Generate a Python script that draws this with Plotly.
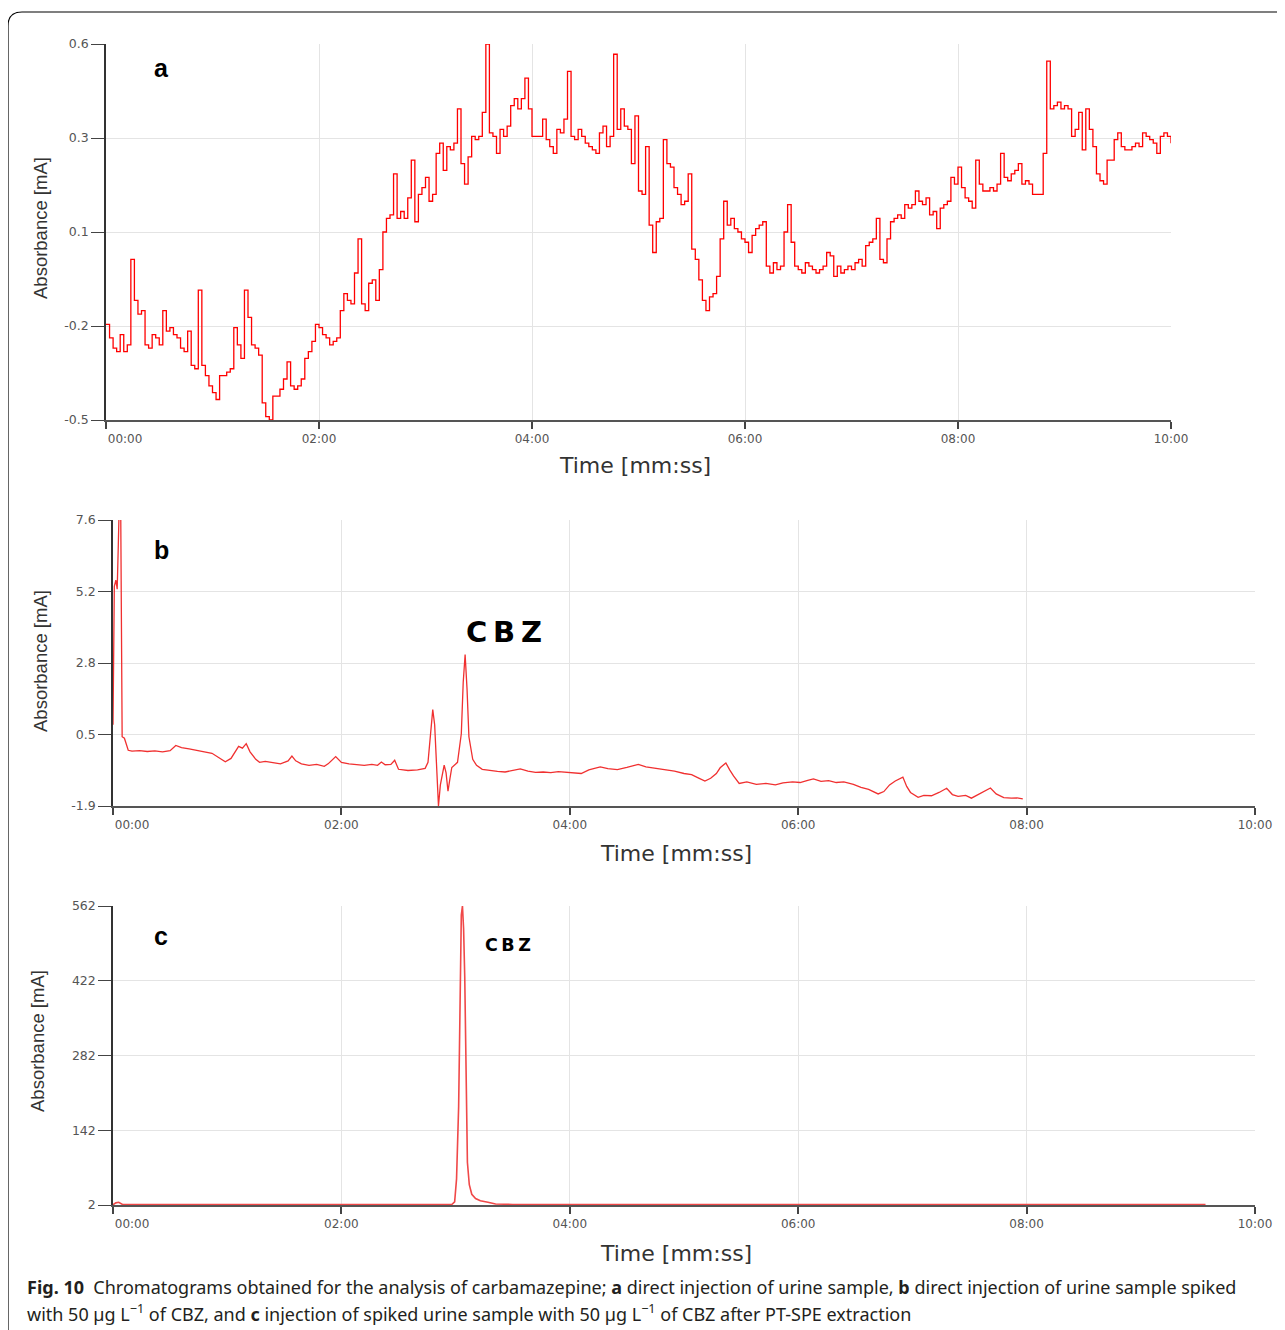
import plotly.graph_objects as go

W, H = 1285, 1330
OFF = 8  # default page margin of the html body

# ---------------- data ----------------
time_tick_vals = [0, 120, 240, 360, 480, 600]
time_tick_text = ["00:00", "02:00", "04:00", "06:00", "08:00", "10:00"]

# panel a : direct injection of urine sample (sampled every 2 s)
a_time = list(range(0, 601, 2))
a_abs = [
    -0.22, -0.26, -0.29, -0.30, -0.25, -0.30, -0.28, -0.03, -0.15, -0.19,
    -0.18, -0.28, -0.29, -0.25, -0.26, -0.28, -0.18, -0.24, -0.23, -0.25,
    -0.26, -0.29, -0.30, -0.24, -0.34, -0.35, -0.12, -0.34, -0.37, -0.40,
    -0.42, -0.44, -0.37, -0.37, -0.36, -0.35, -0.23, -0.28, -0.32, -0.12,
    -0.20, -0.28, -0.29, -0.31, -0.45, -0.49, -0.50, -0.43, -0.43, -0.41,
    -0.38, -0.33, -0.40, -0.41, -0.40, -0.38, -0.32, -0.30, -0.27, -0.22,
    -0.23, -0.25, -0.26, -0.28, -0.27, -0.26, -0.18, -0.13, -0.15, -0.16,
    -0.07, 0.03, -0.16, -0.18, -0.10, -0.09, -0.15, -0.06, 0.05, 0.09,
    0.10, 0.22, 0.09, 0.11, 0.09, 0.15, 0.26, 0.08, 0.16, 0.18,
    0.21, 0.14, 0.16, 0.28, 0.31, 0.23, 0.30, 0.29, 0.31, 0.41,
    0.25, 0.19, 0.27, 0.33, 0.32, 0.33, 0.40, 0.60, 0.34, 0.33,
    0.28, 0.35, 0.33, 0.36, 0.42, 0.44, 0.41, 0.44, 0.50, 0.41,
    0.33, 0.33, 0.33, 0.38, 0.32, 0.30, 0.28, 0.35, 0.34, 0.38,
    0.52, 0.33, 0.32, 0.35, 0.33, 0.31, 0.30, 0.29, 0.28, 0.34,
    0.36, 0.30, 0.33, 0.57, 0.35, 0.41, 0.36, 0.35, 0.25, 0.39,
    0.17, 0.16, 0.30, 0.07, -0.01, 0.08, 0.09, 0.32, 0.25, 0.24,
    0.18, 0.16, 0.13, 0.14, 0.22, 0.00, -0.03, -0.09, -0.15, -0.18,
    -0.14, -0.13, -0.08, 0.03, 0.14, 0.07, 0.09, 0.06, 0.05, 0.03,
    0.02, -0.01, 0.04, 0.06, 0.07, 0.08, -0.05, -0.07, -0.04, -0.06,
    -0.05, 0.05, 0.13, 0.02, -0.05, -0.06, -0.07, -0.04, -0.05, -0.06,
    -0.07, -0.06, -0.05, -0.01, -0.02, -0.08, -0.05, -0.07, -0.06, -0.05,
    -0.06, -0.04, -0.03, -0.05, 0.01, 0.02, 0.03, 0.09, -0.03, -0.04,
    0.03, 0.08, 0.09, 0.10, 0.09, 0.13, 0.12, 0.13, 0.17, 0.14,
    0.13, 0.15, 0.10, 0.11, 0.06, 0.12, 0.13, 0.14, 0.21, 0.19,
    0.24, 0.18, 0.15, 0.14, 0.12, 0.26, 0.19, 0.17, 0.17, 0.18,
    0.17, 0.19, 0.28, 0.21, 0.20, 0.22, 0.23, 0.25, 0.19, 0.20,
    0.19, 0.16, 0.16, 0.16, 0.28, 0.55, 0.41, 0.42, 0.43, 0.41,
    0.42, 0.41, 0.33, 0.35, 0.40, 0.29, 0.41, 0.35, 0.30, 0.22,
    0.20, 0.19, 0.26, 0.26, 0.32, 0.34, 0.30, 0.29, 0.29, 0.30,
    0.31, 0.30, 0.34, 0.33, 0.32, 0.31, 0.28, 0.33, 0.34, 0.33,
    0.31,
]
a_yrange = [-0.5, 0.6]
a_ytick_text = ["-0.5", "-0.2", "0.1", "0.3", "0.6"]

# panel b : urine spiked with 50 ug/L CBZ, direct injection
b_time = [
    0.0, 0.7, 1.5, 2.2, 2.8, 3.6, 4.0, 4.8, 6, 8,
    10, 14, 18, 22, 26, 30, 33, 36, 40, 44,
    48, 52, 56, 59, 62, 66, 68, 70, 72, 75,
    77, 80, 84, 88, 92, 94, 96, 99, 103, 107,
    111, 113, 117, 120, 124, 128, 132, 136, 139, 141,
    143, 146, 148, 150, 155, 160, 164, 165.5, 167, 168,
    169, 170, 171, 172, 174, 175, 176, 177, 178, 181,
    183, 184, 185, 186, 187, 189, 191, 194, 198, 202,
    206, 210, 214, 218, 222, 226, 230, 234, 238, 242,
    246, 250, 256, 260, 265, 270, 276, 280, 286, 290,
    295, 300, 304, 308, 311, 314, 317, 319, 322, 324,
    326, 329, 333, 338, 343, 348, 352, 357, 361, 365,
    368, 372, 376, 380, 384, 389, 393, 397, 402, 405,
    408, 411, 413, 415, 417, 419, 423, 426, 430, 434,
    438, 441, 444, 448, 451, 455, 458, 461, 464, 468,
    472, 475, 478,
]
b_abs = [
    0.8, 5.4, 5.6, 5.3, 6.8, 9.0, 8.5, 0.4, 0.35, -0.05,
    -0.08, -0.06, -0.09, -0.07, -0.10, -0.06, 0.11, 0.04, 0.00, -0.06,
    -0.10, -0.15, -0.30, -0.43, -0.32, 0.08, 0.02, 0.17, -0.10, -0.35,
    -0.45, -0.42, -0.46, -0.50, -0.40, -0.24, -0.40, -0.50, -0.55, -0.52,
    -0.58, -0.50, -0.26, -0.45, -0.50, -0.53, -0.55, -0.52, -0.55, -0.44,
    -0.53, -0.52, -0.38, -0.68, -0.72, -0.70, -0.65, -0.45, 0.6, 1.30,
    0.8, -0.6, -1.90, -1.2, -0.54, -0.8, -1.41, -1.0, -0.62, -0.45,
    0.5, 2.2, 3.13, 2.0, 0.4, -0.35, -0.55, -0.68, -0.72, -0.75,
    -0.77, -0.72, -0.67, -0.74, -0.78, -0.77, -0.79, -0.76, -0.78, -0.80,
    -0.82, -0.70, -0.60, -0.66, -0.69, -0.62, -0.52, -0.60, -0.65, -0.70,
    -0.74, -0.82, -0.86, -0.98, -1.07, -0.98, -0.82, -0.63, -0.47, -0.70,
    -0.90, -1.15, -1.10, -1.18, -1.15, -1.20, -1.13, -1.10, -1.12, -1.05,
    -1.00, -1.08, -1.06, -1.12, -1.10, -1.18, -1.28, -1.35, -1.50, -1.42,
    -1.20, -1.07, -1.00, -0.94, -1.25, -1.45, -1.61, -1.55, -1.56, -1.45,
    -1.31, -1.52, -1.58, -1.55, -1.64, -1.50, -1.40, -1.30, -1.50, -1.62,
    -1.64, -1.63, -1.66,
]
b_yrange = [-1.9, 7.6]
b_ytick_text = ["-1.9", "0.5", "2.8", "5.2", "7.6"]

# panel c : spiked urine after PT-SPE extraction
c_time = [
    0, 1.5, 3, 5, 60, 120, 150, 155, 165, 172,
    176, 178, 179.5, 180.5, 181.6, 182.3, 183.0, 183.6, 184.2, 184.8,
    185.4, 186.2, 187.2, 188.5, 190.5, 193, 197, 201, 210, 300,
    400, 500, 574,
]
c_abs = [
    2.5, 6, 7, 3, 3, 3, 3, 2.2, 2.2, 2.2,
    2.5, 3, 8, 51, 187, 420, 545, 562, 520, 430,
    248, 82, 40, 22, 14, 10, 7, 4, 3, 3,
    3, 3, 3,
]
c_yrange = [2, 562]
c_ytick_text = ["2", "142", "282", "422", "562"]


# ---------------- helpers (layout positions in screen pixels) ----------------
def px(x):
    return (x - OFF) / W


def py(y):
    return 1 - (y - OFF) / H


def lin(r, n=5):
    return [r[0] + (r[1] - r[0]) * i / (n - 1) for i in range(n)]


XTICK_FONT = dict(family="DejaVu Sans", size=12, color="#555555")
YTICK_FONT = dict(family="DejaVu Sans", size=12.5, color="#555555")
GRID = "#e4e4e4"


def xaxis_cfg(x0, x1, anchor):
    return dict(
        domain=[px(x0), px(x1)], anchor=anchor, range=[0, 600],
        tickvals=time_tick_vals,
        ticktext=["\u00a0" * 10 + time_tick_text[0]] + time_tick_text[1:],
        ticks="outside", ticklen=7, tickwidth=2, tickcolor="#444444",
        showline=True, linecolor="#555555", linewidth=2,
        showgrid=True, gridcolor=GRID, gridwidth=1,
        tickfont=XTICK_FONT, zeroline=False, fixedrange=True, automargin=False,
    )


def yaxis_cfg(y_top, y_bottom, rng, ttext, anchor):
    return dict(
        domain=[py(y_bottom), py(y_top)], anchor=anchor, range=rng,
        tickvals=lin(rng), ticktext=ttext,
        ticks="outside", ticklen=13, tickwidth=1, tickcolor="#444444",
        showline=True, linecolor="#333333", linewidth=1.5,
        showgrid=True, gridcolor=GRID, gridwidth=1,
        tickfont=YTICK_FONT, zeroline=False, fixedrange=True, automargin=False,
    )


fig = go.Figure()
fig.add_trace(go.Scatter(x=a_time, y=a_abs, mode="lines", xaxis="x", yaxis="y",
                         line=dict(color="#ff0000", width=1.3, shape="hv"), showlegend=False))
fig.add_trace(go.Scatter(x=b_time, y=b_abs, mode="lines", xaxis="x2", yaxis="y2",
                         line=dict(color="#f03030", width=1.3), showlegend=False))
fig.add_trace(go.Scatter(x=c_time, y=c_abs, mode="lines", xaxis="x3", yaxis="y3",
                         line=dict(color="#f04848", width=1.6), showlegend=False))

fig.update_layout(
    width=W, height=H, margin=dict(l=0, r=0, t=0, b=0, pad=0, autoexpand=False),
    paper_bgcolor="white", plot_bgcolor="white",
    xaxis=xaxis_cfg(106, 1171, "y"),
    yaxis=yaxis_cfg(44, 420, a_yrange, a_ytick_text, "x"),
    xaxis2=xaxis_cfg(113, 1255, "y2"),
    yaxis2=yaxis_cfg(520, 806, b_yrange, b_ytick_text, "x2"),
    xaxis3=xaxis_cfg(113, 1255, "y3"),
    yaxis3=yaxis_cfg(906, 1205, c_yrange, c_ytick_text, "x3"),
)

ann = []


def text(x, y, s, size, family="Liberation Sans", color="#111111", angle=0, xanchor="center"):
    ann.append(dict(x=px(x), y=py(y), xref="paper", yref="paper", text=s, showarrow=False,
                    xanchor=xanchor, yanchor="middle", textangle=angle,
                    font=dict(family=family, size=size, color=color)))


YT_FONT = "Liberation Sans"
XT_FONT = "DejaVu Sans"
for yc, xc in [(228, 40), (661, 40), (1041, 37)]:
    text(xc, yc, "Absorbance [mA]", 18.5, YT_FONT, "#333333", angle=-90)
for xc, yc in [(635, 465), (676, 853), (676, 1253)]:
    text(xc, yc, "Time [mm:ss]", 22, XT_FONT, "#333333")

text(161, 68, "<b>a</b>", 25, "Liberation Sans", "#000000")
text(161, 550, "<b>b</b>", 25, "Liberation Sans", "#000000")
text(161, 936, "<b>c</b>", 25, "Liberation Sans", "#000000")
text(504, 632, "<b>C\u2009B\u2009Z</b>", 29, "DejaVu Sans", "#000000")
text(508, 945, "<b>C\u2009B\u2009Z</b>", 17.5, "DejaVu Sans", "#000000")

CAP_FONT = "Noto Sans"
text(25, 1287,
     "<b>Fig. 10</b>\u00a0\u00a0Chromatograms obtained for the analysis of carbamazepine; "
     "<b>a</b> direct injection of urine sample, <b>b</b> direct injection of urine sample spiked",
     18, CAP_FONT, "#231f20", xanchor="left")
text(25, 1313,
     "with 50 \u00b5g L<sup>\u22121</sup> of CBZ, and <b>c</b> injection of spiked urine sample "
     "with 50 \u00b5g L<sup>\u22121</sup> of CBZ after PT-SPE extraction",
     18, CAP_FONT, "#231f20", xanchor="left")

fig.update_layout(annotations=ann)

# rounded outer frame
frame = (f"M {px(1300)},{py(12)} L {px(22)},{py(12)} "
         f"Q {px(8)},{py(12)} {px(8)},{py(26)} L {px(8)},{py(1345)}")
fig.add_shape(type="path", path=frame, xref="paper", yref="paper",
              line=dict(color="#000000", width=1.2))

fig.write_html("out.html")
